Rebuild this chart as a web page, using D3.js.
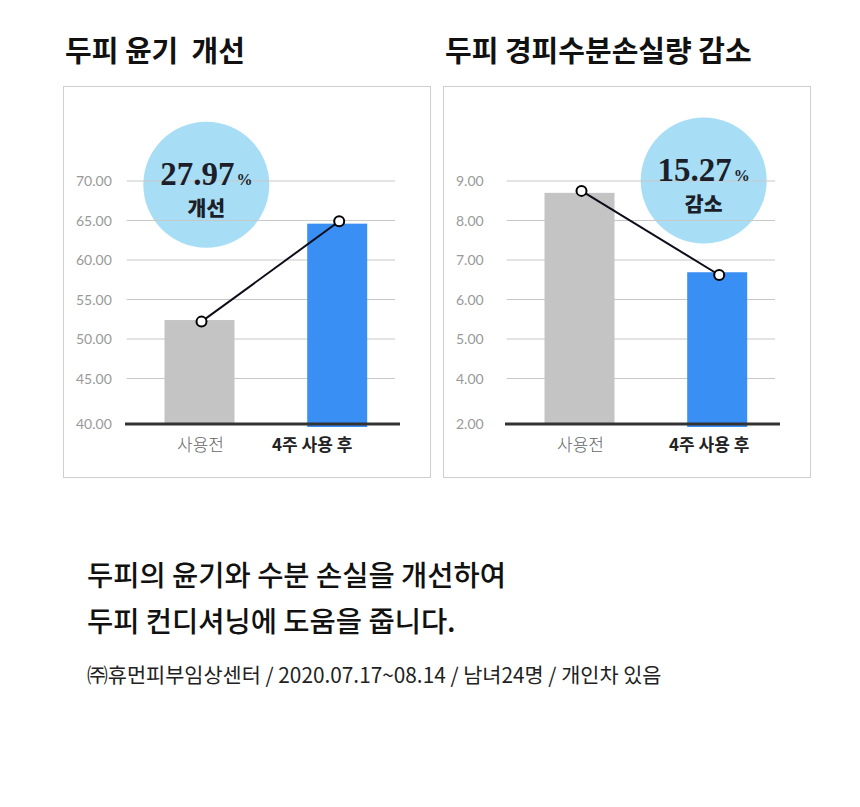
<!DOCTYPE html>
<html>
<head>
<meta charset="utf-8">
<script src="https://cdn.jsdelivr.net/npm/d3@7"></script>
<style>
    body { margin: 0; background: #fff; }
</style>
</head>
<body>
<div id="output"></div>
<script>
const width = 860;
const height = 807;

// data
const categories = ['사용전', '4주 사용 후'];
const glossTitle = '두피 윤기\u00a0\u00a0개선';
const glossBars = [52.4, 64.6];
const glossPoints = [52.2, 64.9];
const glossTicks = [40, 45, 50, 55, 60, 65, 70];
const glossBadge = ['27.97', '개선'];

const tewlTitle = '두피 경피수분손실량 감소';
const tewlBars = [8.70, 6.69];
const tewlPoints = [8.75, 6.62];
const tewlTicks = [2, 4, 5, 6, 7, 8, 9];
const tewlBadge = ['15.27', '감소'];

const noteLines = ['두피의 윤기와 수분 손실을 개선하여', '두피 컨디셔닝에 도움을 줍니다.'];
const sourceLine = '㈜휴먼피부임상센터 / 2020.07.17~08.14 / 남녀24명 / 개인차 있음';

// layout
const panelW = 367, panelH = 391, panelY = 86.5;
const baseY = 424, stepY = 378.5, topY = 181;
const barW = [70, 60];
const barColors = ['#c4c4c4', '#3a8ff4'];
const krFont = '"Noto Sans CJK KR", "Noto Sans", sans-serif';

let svg = d3.select('#output').append('svg')
    .attr('width', width)
    .attr('height', height);
svg.append('rect')
    .attr('width', '100%')
    .attr('height', '100%')
    .attr('fill', '#fff');

function drawPanel(px, title, bars, points, ticks, badge, badgePos, labelShift) {
    let g = svg.append('g').attr('transform', 'translate(' + px + ',0)');

    g.append('text')
        .attr('x', 2)
        .attr('y', 62)
        .attr('font-family', krFont)
        .attr('font-weight', 700)
        .attr('font-size', 29)
        .attr('fill', '#111')
        .text(title);

    g.append('rect')
        .attr('x', 0.5)
        .attr('y', panelY)
        .attr('width', panelW)
        .attr('height', panelH)
        .attr('fill', 'none')
        .attr('stroke', '#cfcfcf')
        .attr('stroke-width', 1);

    // broken axis: the lowest tick sits one gap below the rest
    const y = d3.scaleLinear()
        .domain([ticks[0], ticks[1], ticks[ticks.length - 1]])
        .range([baseY, stepY, topY]);
    const x = d3.scalePoint()
        .domain(categories)
        .range([136.5, 274.2]);

    // badge circle sits under the grid
    g.append('circle')
        .attr('cx', badgePos[0])
        .attr('cy', badgePos[1])
        .attr('r', 63)
        .attr('fill', '#a7def6');

    g.append('g').selectAll('line')
        .data(ticks.slice(1))
        .enter().append('line')
        .attr('x1', 63.7)
        .attr('x2', 332)
        .attr('y1', d => y(d))
        .attr('y2', d => y(d))
        .attr('stroke', '#c8c8c8')
        .attr('stroke-width', 1);

    g.append('g').selectAll('text')
        .data(ticks)
        .enter().append('text')
        .attr('x', 13)
        .attr('y', d => y(d))
        .attr('dy', '0.36em')
        .attr('font-family', 'Lato, sans-serif')
        .attr('font-weight', 400)
        .attr('font-size', 14)
        .attr('fill', '#999')
        .text(d => d3.format('.2f')(d));

    g.append('g').selectAll('rect')
        .data(bars)
        .enter().append('rect')
        .attr('x', (d, i) => x(categories[i]) - barW[i] / 2)
        .attr('y', d => y(d))
        .attr('width', (d, i) => barW[i])
        .attr('height', (d, i) => baseY - y(d) + (i === 1 ? 3 : 0))
        .attr('fill', (d, i) => barColors[i]);

    g.append('line')
        .attr('x1', 62)
        .attr('x2', 337)
        .attr('y1', baseY)
        .attr('y2', baseY)
        .attr('stroke', '#333')
        .attr('stroke-width', 3);

    const line = d3.line()
        .x((d, i) => x(categories[i]) + 2)
        .y(d => y(d));
    g.append('path')
        .attr('d', line(points))
        .attr('fill', 'none')
        .attr('stroke', '#0d0d1a')
        .attr('stroke-width', 2);
    g.append('g').selectAll('circle')
        .data(points)
        .enter().append('circle')
        .attr('cx', (d, i) => x(categories[i]) + 2)
        .attr('cy', d => y(d))
        .attr('r', 5)
        .attr('fill', '#fff')
        .attr('stroke', '#000')
        .attr('stroke-width', 2);

    g.append('g').selectAll('text')
        .data(categories)
        .enter().append('text')
        .attr('x', (d, i) => x(d) + labelShift[i])
        .attr('y', 451)
        .attr('text-anchor', 'middle')
        .attr('font-family', krFont)
        .attr('font-weight', (d, i) => i === 1 ? 700 : 300)
        .attr('font-size', 17)
        .attr('fill', (d, i) => i === 1 ? '#222' : '#666')
        .text(d => d);

    // badge text
    let num = g.append('text')
        .attr('x', badgePos[0])
        .attr('y', badgePos[1] + 0.5)
        .attr('text-anchor', 'middle')
        .attr('font-family', '"Liberation Serif", "DejaVu Serif", serif')
        .attr('font-weight', 700)
        .attr('fill', '#1c1f2a');
    num.append('tspan')
        .attr('font-size', 33)
        .text(badge[0]);
    num.append('tspan')
        .attr('font-size', 16)
        .attr('dx', 2)
        .text('%');
    g.append('text')
        .attr('x', badgePos[0])
        .attr('y', badgePos[1] + 31.5)
        .attr('text-anchor', 'middle')
        .attr('font-family', krFont)
        .attr('font-weight', 900)
        .attr('font-size', 20.5)
        .attr('fill', '#1c1f2a')
        .text(badge[1]);
}

drawPanel(63, glossTitle, glossBars, glossPoints, glossTicks, glossBadge, [143.3, 184.7], [1, -25]);
drawPanel(443, tewlTitle, tewlBars, tewlPoints, tewlTicks, tewlBadge, [260.7, 180.5], [1, -8]);

svg.append('g').selectAll('text')
    .data(noteLines)
    .enter().append('text')
    .attr('x', 87)
    .attr('y', (d, i) => 586 + i * 46)
    .attr('font-family', krFont)
    .attr('font-weight', 500)
    .attr('font-size', 28.5)
    .attr('fill', '#111')
    .text(d => d);

svg.append('text')
    .attr('x', 87)
    .attr('y', 683)
    .attr('font-family', krFont)
    .attr('font-weight', 400)
    .attr('font-size', 20.8)
    .attr('fill', '#222')
    .text(sourceLine);
</script>
</body>
</html>
